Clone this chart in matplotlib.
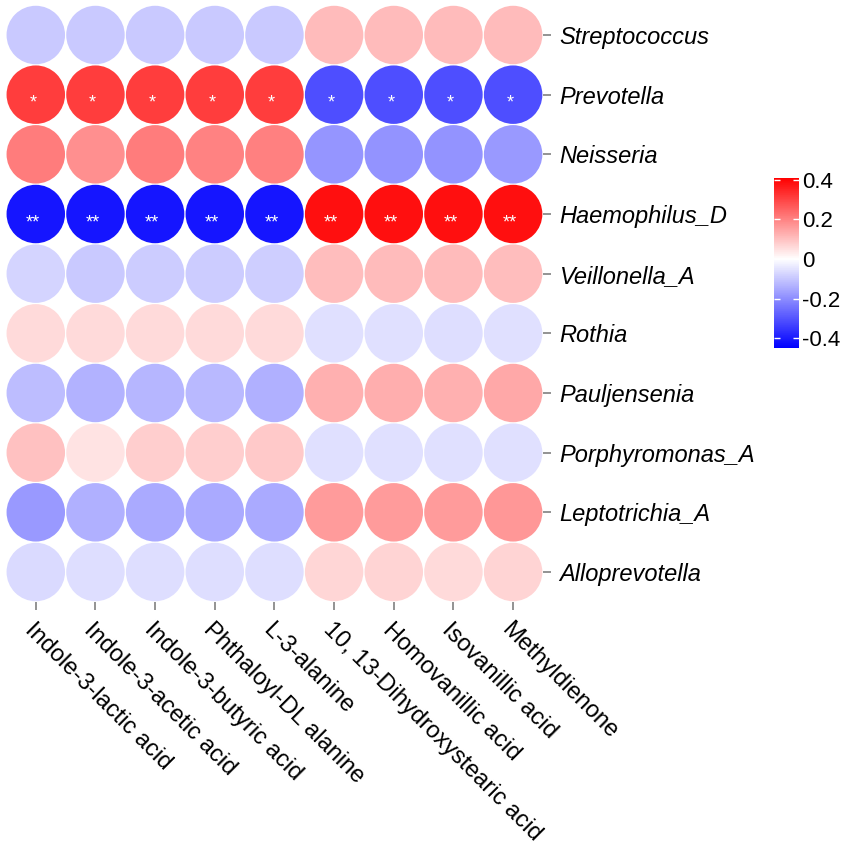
import numpy as np
import matplotlib
matplotlib.use("Agg")
import matplotlib.pyplot as plt
from matplotlib.patches import Circle
from matplotlib.colors import LinearSegmentedColormap, Normalize

plt.rcParams['font.family'] = ['Liberation Sans', 'DejaVu Sans']

metabolites = ['Indole-3-lactic acid', 'Indole-3-acetic acid', 'Indole-3-butyric acid',
               'Phthaloyl-DL alanine', 'L-3-alanine', '10, 13-Dihydroxystearic acid',
               'Homovanillic acid', 'Isovanillic acid', 'Methyldienone']
genera = ['Streptococcus', 'Prevotella', 'Neisseria', 'Haemophilus_D', 'Veillonella_A',
          'Rothia', 'Pauljensenia', 'Porphyromonas_A', 'Leptotrichia_A', 'Alloprevotella']

# correlation values, one list per genus (same order as metabolites)
streptococcus = [-0.097, -0.095, -0.097, -0.097, -0.095, 0.109, 0.108, 0.11, 0.109]
prevotella = [0.31, 0.31, 0.31, 0.31, 0.31, -0.31, -0.31, -0.31, -0.31]
neisseria = [0.21, 0.18, 0.21, 0.2, 0.205, -0.185, -0.19, -0.19, -0.18]
haemophilus_d = [-0.41, -0.41, -0.41, -0.41, -0.41, 0.385, 0.385, 0.385, 0.385]
veillonella_a = [-0.076, -0.097, -0.09, -0.09, -0.085, 0.105, 0.108, 0.11, 0.105]
rothia = [0.06, 0.06, 0.06, 0.06, 0.058, -0.055, -0.055, -0.058, -0.055]
pauljensenia = [-0.115, -0.136, -0.13, -0.124, -0.14, 0.125, 0.13, 0.125, 0.14]
porphyromonas_a = [0.1, 0.045, 0.08, 0.08, 0.085, -0.055, -0.055, -0.055, -0.055]
leptotrichia_a = [-0.18, -0.14, -0.15, -0.15, -0.15, 0.16, 0.16, 0.16, 0.165]
alloprevotella = [-0.065, -0.058, -0.058, -0.06, -0.058, 0.065, 0.07, 0.06, 0.068]

values = np.array([streptococcus, prevotella, neisseria, haemophilus_d, veillonella_a,
                   rothia, pauljensenia, porphyromonas_a, leptotrichia_a, alloprevotella])
stars = {'Prevotella': '*', 'Haemophilus_D': '**'}

vmin, vmax = -0.45, 0.41
mid = -vmin / (vmax - vmin)
cmap = LinearSegmentedColormap.from_list(
    'bwr_c', [(0, '#0000ff'), (mid, '#ffffff'), (1, '#ff0000')])
norm = Normalize(vmin=vmin, vmax=vmax)

fig = plt.figure(figsize=(8.51, 8.46), dpi=100)
ax = fig.add_axes([0.007, 0.2884, 0.631, 0.7057])

for i, g in enumerate(genera):
    for j in range(len(metabolites)):
        ax.add_patch(Circle((j, i), 0.49, facecolor=cmap(norm(values[i, j])),
                            edgecolor='none'))
        if g in stars:
            ax.text(j - 0.05, i + 0.22, stars[g], color='white', fontsize=13,
                    ha='center', va='baseline')

ax.set_xlim(-0.5, len(metabolites) - 0.5)
ax.set_ylim(len(genera) - 0.5, -0.5)
ax.set_aspect('equal')
for s in ax.spines.values():
    s.set_visible(False)

ax.yaxis.tick_right()
ax.set_yticks(range(len(genera)))
ax.set_yticklabels(genera, fontsize=17, style='italic')
ax.set_xticks(range(len(metabolites)))
ax.set_xticklabels(metabolites, fontsize=17, rotation=-45, ha='left', va='top',
                   rotation_mode='anchor')
ax.tick_params(axis='both', color='#808080', length=6, width=1.2, pad=6)

cax = fig.add_axes([0.9095, 0.5887, 0.0294, 0.201])
sm = plt.cm.ScalarMappable(norm=norm, cmap=cmap)
cb = fig.colorbar(sm, cax=cax, ticks=[-0.4, -0.2, 0, 0.2, 0.4])
cb.ax.set_yticklabels(['-0.4', '-0.2', '0', '0.2', '0.4'], fontsize=16)
cb.outline.set_visible(False)
cb.ax.tick_params(direction='in', color='white', length=4, width=1, left=True,
                  right=True, pad=2)

fig.savefig('out.png', dpi=100)
